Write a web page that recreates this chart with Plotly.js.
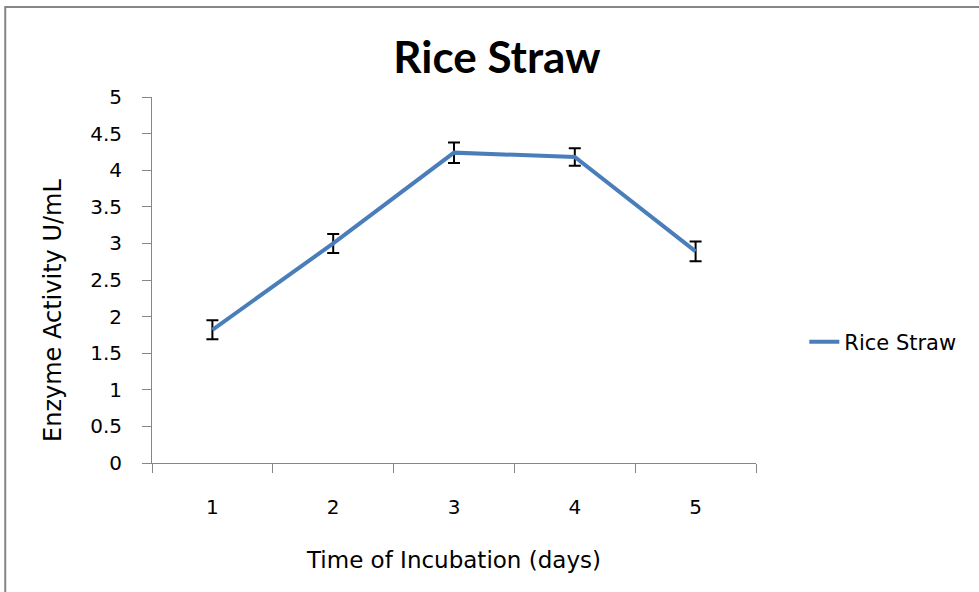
<!DOCTYPE html>
<html><head><meta charset="utf-8">
<script src="https://cdn.plot.ly/plotly-3.0.1.min.js"></script>
<style>html,body{margin:0;padding:0;background:#fff}#chart{width:979px;height:592px}</style>
</head><body><div id="chart"></div>
<script>
const days = ['1', '2', '3', '4', '5'];
const activity = [1.82, 3.0, 4.24, 4.18, 2.89];
const errors = [0.13, 0.13, 0.14, 0.12, 0.135];
const yTicks = [0, 0.5, 1, 1.5, 2, 2.5, 3, 3.5, 4, 4.5, 5];
const yTickText = ['0', '0.5', '1', '1.5', '2', '2.5', '3', '3.5', '4', '4.5', '5'];
const chartTitle = 'Rice Straw';
const xTitle = 'Time of Incubation (days)';
const yTitle = 'Enzyme Activity U/mL';

const FONT = '"DejaVu Sans", "Open Sans", sans-serif';
const TITLE_FONT = 'Lato, "Open Sans", sans-serif';
const trace = {
  x: days, y: activity, type: 'scatter', mode: 'lines', name: 'Rice Straw',
  line: {color: '#4a7ebb', width: 4},
  error_y: {type: 'data', array: errors, visible: true, color: '#000', thickness: 2, width: 6}
};
const layout = {
  width: 979, height: 592,
  margin: {l: 152, r: 223, t: 97, b: 129},
  paper_bgcolor: '#fff', plot_bgcolor: '#fff',
  font: {family: FONT, color: '#000', size: 20},
  title: {text: '<b>' + chartTitle + '</b>', font: {family: TITLE_FONT, size: 44, color: '#000'}, x: 0.571, xref: 'paper', xanchor: 'center', y: 0.903, yref: 'container', yanchor: 'middle'},
  xaxis: {
    type: 'category', range: [-0.5, 4.5], tickson: 'boundaries', ticks: 'outside', ticklen: 9, tickcolor: '#868686',
    showline: true, linecolor: '#868686', linewidth: 1, showgrid: false, zeroline: false,
    tickfont: {size: 20}, ticklabelstandoff: 26,
    title: {text: xTitle, font: {size: 23}, standoff: 33}
  },
  yaxis: {
    range: [0, 5], tickvals: yTicks, ticktext: yTickText, ticks: 'outside', ticklen: 9, tickcolor: '#868686',
    showline: true, linecolor: '#868686', linewidth: 1, showgrid: false, zeroline: false,
    tickfont: {size: 20}, ticklabelstandoff: 16
  },
  annotations: [{text: yTitle, xref: 'paper', yref: 'paper', x: -0.164, y: 0.418, xanchor: 'center', yanchor: 'middle',
    textangle: -90, showarrow: false, font: {size: 24, color: '#000'}}],
  showlegend: true,
  legend: {x: 1.08, xanchor: 'left', y: 0.33, yanchor: 'middle', font: {size: 21}, bgcolor: 'rgba(0,0,0,0)'},
  shapes: [{type: 'rect', xref: 'paper', yref: 'paper', x0: -0.243, x1: 1.4, y0: -0.4, y1: 1.246,
    line: {color: '#868686', width: 2}, fillcolor: 'rgba(0,0,0,0)', layer: 'below'}]
};
Plotly.newPlot('chart', [trace], layout, {displayModeBar: false, staticPlot: true});
</script></body></html>
